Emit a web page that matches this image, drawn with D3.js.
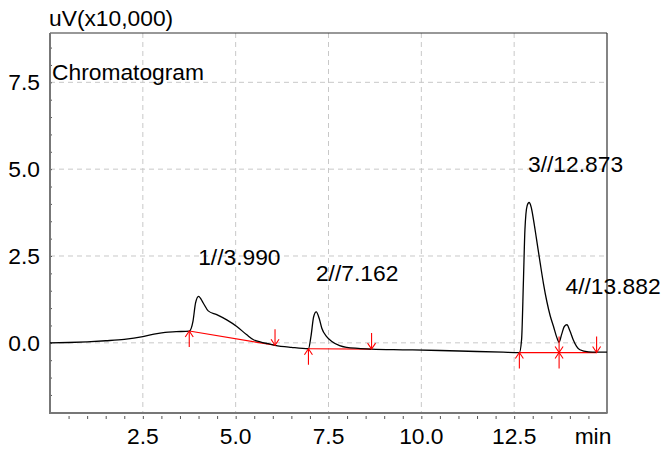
<!DOCTYPE html>
<html>
<head>
<meta charset="utf-8">
<script src="https://cdn.jsdelivr.net/npm/d3@7"></script>
<style>
body { margin: 0; background: #fff; }
text { font-family: "Liberation Sans", Arial, sans-serif; font-size: 22.8px; fill: #000; }
</style>
</head>
<body>
<svg id="chart" width="667" height="451"></svg>
<script>
// signal du chromatogramme (min, uV x10 000)
var temps = [0, 0.5, 1.0, 1.5, 2.0, 2.5, 2.8, 3.1, 3.4, 3.75, 3.85, 3.92, 4.0, 4.13, 4.26, 4.49, 4.76, 5.03, 5.3, 5.48, 5.66, 5.85, 6.06, 6.5, 6.96,
	7.03, 7.1, 7.17, 7.25, 7.32, 7.45, 7.59, 7.8, 7.99, 8.3, 8.66, 9.5, 10.5, 11.5, 12.2, 12.64,
	12.7, 12.75, 12.79, 12.85, 12.9, 12.96, 13.02, 13.1, 13.2, 13.29, 13.38, 13.47, 13.56, 13.65, 13.71,
	13.78, 13.85, 13.92, 14.0, 14.09, 14.18, 14.27, 14.5, 14.72, 15.0];
var signal = [0, 0.01, 0.03, 0.06, 0.10, 0.18, 0.25, 0.30, 0.32, 0.34, 0.62, 1.15, 1.34, 1.14, 0.92, 0.81, 0.66, 0.47, 0.23, 0.09, 0.03, -0.02, -0.07, -0.13, -0.17,
	0.2, 0.75, 0.89, 0.7, 0.42, 0.18, 0.04, -0.08, -0.13, -0.16, -0.18, -0.2, -0.22, -0.25, -0.27, -0.28,
	0.1, 1.8, 3.26, 3.95, 4.04, 3.9, 3.55, 3.0, 2.3, 1.7, 1.19, 0.78, 0.47, 0.15, 0.02,
	0.25, 0.47, 0.52, 0.35, 0.09, -0.1, -0.2, -0.26, -0.27, -0.27];

// pics : numéro, temps de rétention, hauteur
var picNum = [1, 2, 3, 4];
var picTR = [3.990, 7.162, 12.873, 13.882];
var picHaut = [1.34, 0.89, 4.04, 0.52];

// lignes de base (début / fin)
var baseDebT = [3.75, 6.96, 12.64];
var baseDebV = [0.34, -0.17, -0.28];
var baseFinT = [6.06, 8.66, 14.72];
var baseFinV = [-0.07, -0.18, -0.28];

// marqueurs d'intégration
var flecheHautT = [3.75, 6.96, 12.64, 13.71];
var flecheHautV = [0.34, -0.17, -0.28, -0.28];
var flecheBasT = [6.06, 8.66, 13.71, 14.72];
var flecheBasV = [-0.07, -0.18, -0.28, -0.28];

var xTicks = [2.5, 5.0, 7.5, 10.0, 12.5];
var yTicks = [0.0, 2.5, 5.0, 7.5];

var svg = d3.select("#chart");
var gauche = 50, droite = 607, haut = 33, bas = 413;

var x = d3.scaleLinear().domain([0, 15]).range([gauche, droite]);
var y = d3.scaleLinear().domain([-2.02, 8.92]).range([bas, haut]);

svg.append("rect").attr("width", 667).attr("height", 451).attr("fill", "#fff");

// grille
svg.selectAll("line.gx").data(xTicks).enter().append("line")
	.attr("x1", d => x(d)).attr("x2", d => x(d))
	.attr("y1", haut).attr("y2", bas)
	.attr("stroke", "#c8c8c8").attr("stroke-dasharray", "5,4");
svg.selectAll("line.gy").data(yTicks).enter().append("line")
	.attr("x1", gauche).attr("x2", droite)
	.attr("y1", d => y(d)).attr("y2", d => y(d))
	.attr("stroke", "#c8c8c8").attr("stroke-dasharray", "5,4");

// cadre
svg.append("line").attr("x1", gauche).attr("x2", droite).attr("y1", haut).attr("y2", haut)
	.attr("stroke", "#333").attr("stroke-width", 1.2);
svg.append("line").attr("x1", droite).attr("x2", droite).attr("y1", haut).attr("y2", bas)
	.attr("stroke", "#333").attr("stroke-width", 1.2);

// axes
var axeX = d3.axisBottom(x).tickValues(d3.range(0.5, 15, 0.5)).tickSize(3).tickFormat("");
var gx = svg.append("g").attr("transform", "translate(0," + (bas + 3) + ")").call(axeX);
gx.select(".domain").remove();
gx.selectAll(".tick line").attr("stroke", "#555");

var axeY = d3.axisRight(y).tickValues(d3.range(-1.5, 8.9, 0.5)).tickSize(3).tickFormat("");
var gy = svg.append("g").attr("transform", "translate(" + (gauche - 1) + ",0)").call(axeY);
gy.select(".domain").remove();
gy.selectAll(".tick line").attr("stroke", "#555");

svg.append("line").attr("x1", gauche).attr("x2", gauche).attr("y1", haut).attr("y2", bas + 1)
	.attr("stroke", "#777").attr("stroke-width", 2);
svg.append("line").attr("x1", gauche - 1).attr("x2", droite + 0.6).attr("y1", bas).attr("y2", bas)
	.attr("stroke", "#777").attr("stroke-width", 2);

svg.selectAll("text.tx").data(xTicks).enter().append("text")
	.attr("x", d => x(d)).attr("y", 444).attr("text-anchor", "middle")
	.text(d => d.toFixed(1));
svg.selectAll("text.ty").data(yTicks).enter().append("text")
	.attr("x", 40).attr("y", d => y(d) + 8).attr("text-anchor", "end")
	.text(d => d.toFixed(1));

svg.append("text").attr("x", 593).attr("y", 444).attr("text-anchor", "middle").text("min");
svg.append("text").attr("x", 49).attr("y", 26).text("uV(x10,000)");
svg.append("text").attr("x", 52).attr("y", 80).text("Chromatogram");

// lignes de base rouges
svg.selectAll("line.base").data(baseDebT).enter().append("line")
	.attr("x1", (d, i) => x(d)).attr("y1", (d, i) => y(baseDebV[i]))
	.attr("x2", (d, i) => x(baseFinT[i])).attr("y2", (d, i) => y(baseFinV[i]))
	.attr("stroke", "#f00").attr("stroke-width", 1.2);

// trace
var pts = temps.map((t, i) => [t, signal[i]]);
var ligne = d3.line().x(d => x(d[0])).y(d => y(d[1])).curve(d3.curveMonotoneX);
svg.append("path").datum(pts).attr("d", ligne)
	.attr("fill", "none").attr("stroke", "#000").attr("stroke-width", 1.3);

// flèches
function fleche(px, py, sens) {
	// sens = 1 : vers le haut (sous le point), -1 : vers le bas (au-dessus)
	var g = svg.append("g").attr("stroke", "#f00").attr("stroke-width", 1.1).attr("fill", "none");
	g.append("line").attr("x1", px).attr("x2", px).attr("y1", py).attr("y2", py + 16 * sens);
	g.append("path").attr("d", "M" + (px - 4) + "," + (py + 6 * sens) + "L" + px + "," + py + "L" + (px + 4) + "," + (py + 6 * sens));
}
flecheHautT.forEach((t, i) => fleche(x(t), y(flecheHautV[i]), 1));
flecheBasT.forEach((t, i) => fleche(x(t), y(flecheBasV[i]), -1));

// étiquettes des pics
svg.selectAll("text.pic").data(picTR).enter().append("text")
	.attr("x", d => x(d)).attr("y", (d, i) => y(picHaut[i]) - 31)
	.text((d, i) => picNum[i] + "//" + d.toFixed(3));
</script>
</body>
</html>
